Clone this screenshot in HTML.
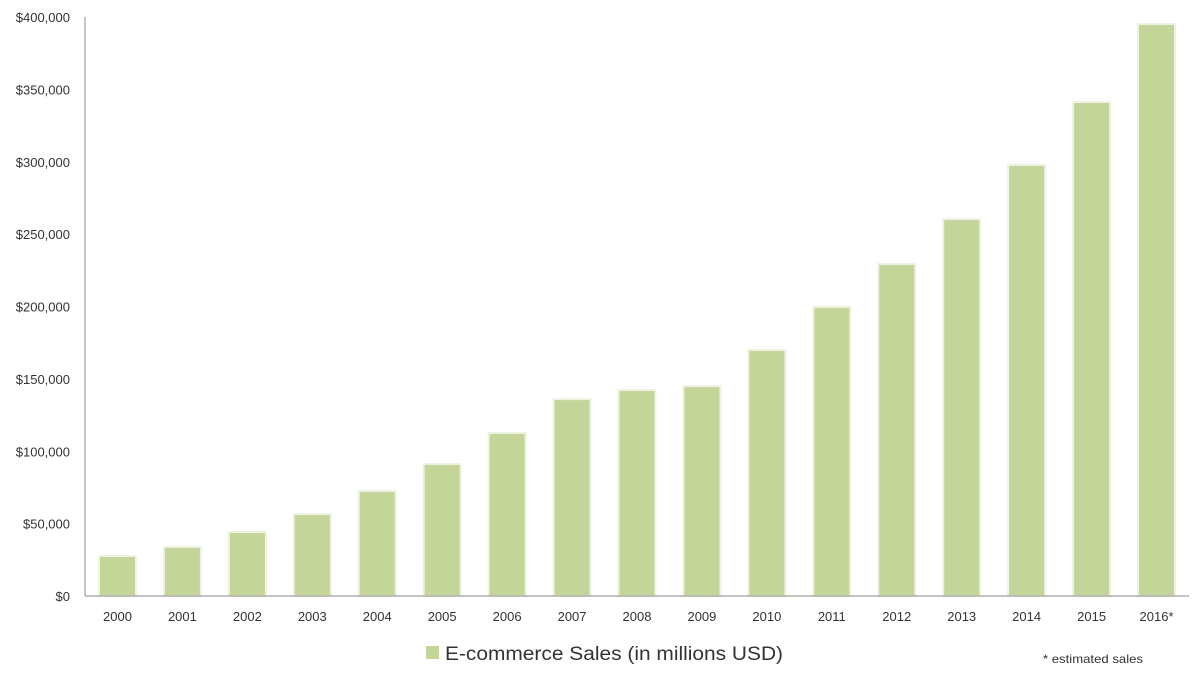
<!DOCTYPE html>
<html><head><meta charset="utf-8"><style>
body{margin:0;background:#fff;width:1203px;height:680px;overflow:hidden;font-family:"Liberation Sans",sans-serif}
svg{display:block}
</style></head><body>
<svg id="chart" width="1203" height="680">
<g id="yaxis"></g>
<g id="bars"></g>
<g id="xaxis"></g>
<g>
<rect x="426" y="646" width="13" height="13" fill="#c4d59a"/>
<text x="445" y="660" font-size="19" fill="#333" textLength="338" lengthAdjust="spacingAndGlyphs">E-commerce Sales (in millions USD)</text>
</g>
<text x="1043" y="663" font-size="12" fill="#333" textLength="100" lengthAdjust="spacingAndGlyphs">* estimated sales</text>
</svg>
<script>
const categories=["2000","2001","2002","2003","2004","2005","2006","2007","2008","2009","2010","2011","2012","2013","2014","2015","2016*"];
const sales=[27600,33900,44200,56600,72500,91200,112600,136000,142300,145000,170000,199700,229400,260400,297800,341300,395200];
const yTicks=[0,50000,100000,150000,200000,250000,300000,350000,400000];
const yTickLabels=["$0","$50,000","$100,000","$150,000","$200,000","$250,000","$300,000","$350,000","$400,000"];
const NS="http://www.w3.org/2000/svg";
const x0=85,x1=1189,yTop=17,yBot=596,yMax=400000;
const band=(x1-x0)/categories.length;
function y(v){return yBot-(v/yMax)*(yBot-yTop);}
function xc(i){return x0+band*(i+0.5);}
function mk(tag,attrs,parent){const e=document.createElementNS(NS,tag);for(const k in attrs)e.setAttribute(k,attrs[k]);parent.appendChild(e);return e;}
const ya=document.getElementById('yaxis'),ba=document.getElementById('bars'),xa=document.getElementById('xaxis');
const axl=mk('line',{x1:x0,y1:yTop,x2:x0,y2:yBot,stroke:'#888','stroke-width':1},ya);


yTicks.forEach((t,i)=>{const tx=mk('text',{x:70,y:y(t)+5,'text-anchor':'end','font-size':13,fill:'#333'},ya);tx.textContent=yTickLabels[i];

});
const xl=mk('line',{x1:x0,y1:yBot,x2:x1,y2:yBot,stroke:'#888','stroke-width':1},xa);


const bw=37;
sales.forEach((v,i)=>{const r=mk('rect',{x:xc(i)-bw/2,y:y(v),width:bw,height:yBot-y(v),fill:'#c4d59a',stroke:'#eef2e2','stroke-width':2},ba);


const tx=mk('text',{x:xc(i),y:621,'text-anchor':'middle','font-size':13,fill:'#333'},xa);tx.textContent=categories[i];

});
</script>
</body></html>
